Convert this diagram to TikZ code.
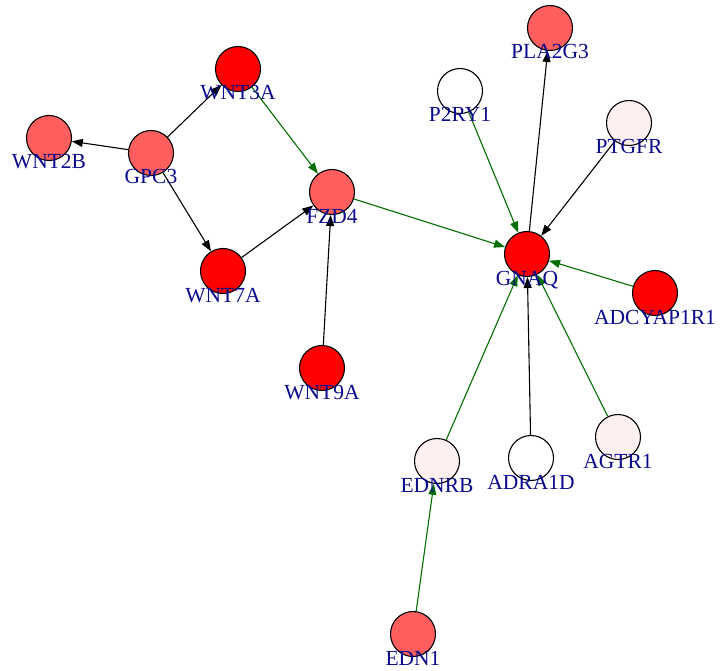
\documentclass[tikz,border=0pt]{standalone}
\usepackage{fontspec}
\setmainfont{Liberation Serif}
\usetikzlibrary{arrows.meta}
\definecolor{nodered}{RGB}{255,0,0}
\definecolor{nodesalmon}{RGB}{255,94,94}
\definecolor{nodepale}{RGB}{255,240,240}
\definecolor{edgegreen}{RGB}{0,110,0}
\definecolor{labelblue}{RGB}{10,10,140}
\tikzset{
  gene/.style={circle, draw=black, line width=1.1pt, minimum size=45pt, inner sep=0pt},
  redg/.style={gene, fill=nodered},
  salg/.style={gene, fill=nodesalmon},
  paleg/.style={gene, fill=nodepale},
  whiteg/.style={gene, fill=white},
  lbl/.style={text=labelblue, font=\fontsize{21.5}{24}\selectfont, inner sep=0pt, anchor=base},
  blk/.style={draw=black, line width=1.1pt, -{Triangle[length=11pt,width=8pt]}},
  grn/.style={draw=edgegreen, line width=1.1pt, -{Triangle[length=11pt,width=8pt]}, edgegreen},
}
\begin{document}
\begin{tikzpicture}[x=1pt,y=-1pt]
\useasboundingbox (0,0) rectangle (720,671);
% nodes
\node[redg] (WNT3A) at (238,69) {};
\node[salg] (WNT2B) at (49,138) {};
\node[salg] (GPC3) at (151,153) {};
\node[salg] (FZD4) at (332,192) {};
\node[redg] (WNT7A) at (223,271) {};
\node[redg] (WNT9A) at (322,368) {};
\node[salg] (PLA2G3) at (550,28) {};
\node[whiteg] (P2RY1) at (460,91) {};
\node[paleg] (PTGFR) at (629,123) {};
\node[redg] (GNAQ) at (527,254) {};
\node[redg] (ADCYAP1R1) at (655,293) {};
\node[paleg] (EDNRB) at (437,461) {};
\node[whiteg] (ADRA1D) at (531,458) {};
\node[paleg] (AGTR1) at (618,437) {};
\node[salg] (EDN1) at (413,634) {};
% edges
\draw[blk] (GPC3) -- (WNT2B);
\draw[blk] (GPC3) -- (WNT3A);
\draw[blk] (GPC3) -- (WNT7A);
\draw[grn] (WNT3A) -- (FZD4);
\draw[blk] (WNT7A) -- (FZD4);
\draw[blk] (WNT9A) -- (FZD4);
\draw[grn] (FZD4) -- (GNAQ);
\draw[blk] (GNAQ) -- (PLA2G3);
\draw[grn] (P2RY1) -- (GNAQ);
\draw[blk] (PTGFR) -- (GNAQ);
\draw[grn] (ADCYAP1R1) -- (GNAQ);
\draw[grn] (EDNRB) -- (GNAQ);
\draw[blk] (ADRA1D) -- (GNAQ);
\draw[grn] (AGTR1) -- (GNAQ);
\draw[grn] (EDN1) -- (EDNRB);
% labels
\foreach \n in {WNT3A,WNT2B,GPC3,FZD4,WNT7A,WNT9A,PLA2G3,P2RY1,PTGFR,GNAQ,ADCYAP1R1,EDNRB,ADRA1D,AGTR1,EDN1}
  \node[lbl] (\n-label) at ([yshift=-31pt]\n.center) {\n};
\end{tikzpicture}
\end{document}
